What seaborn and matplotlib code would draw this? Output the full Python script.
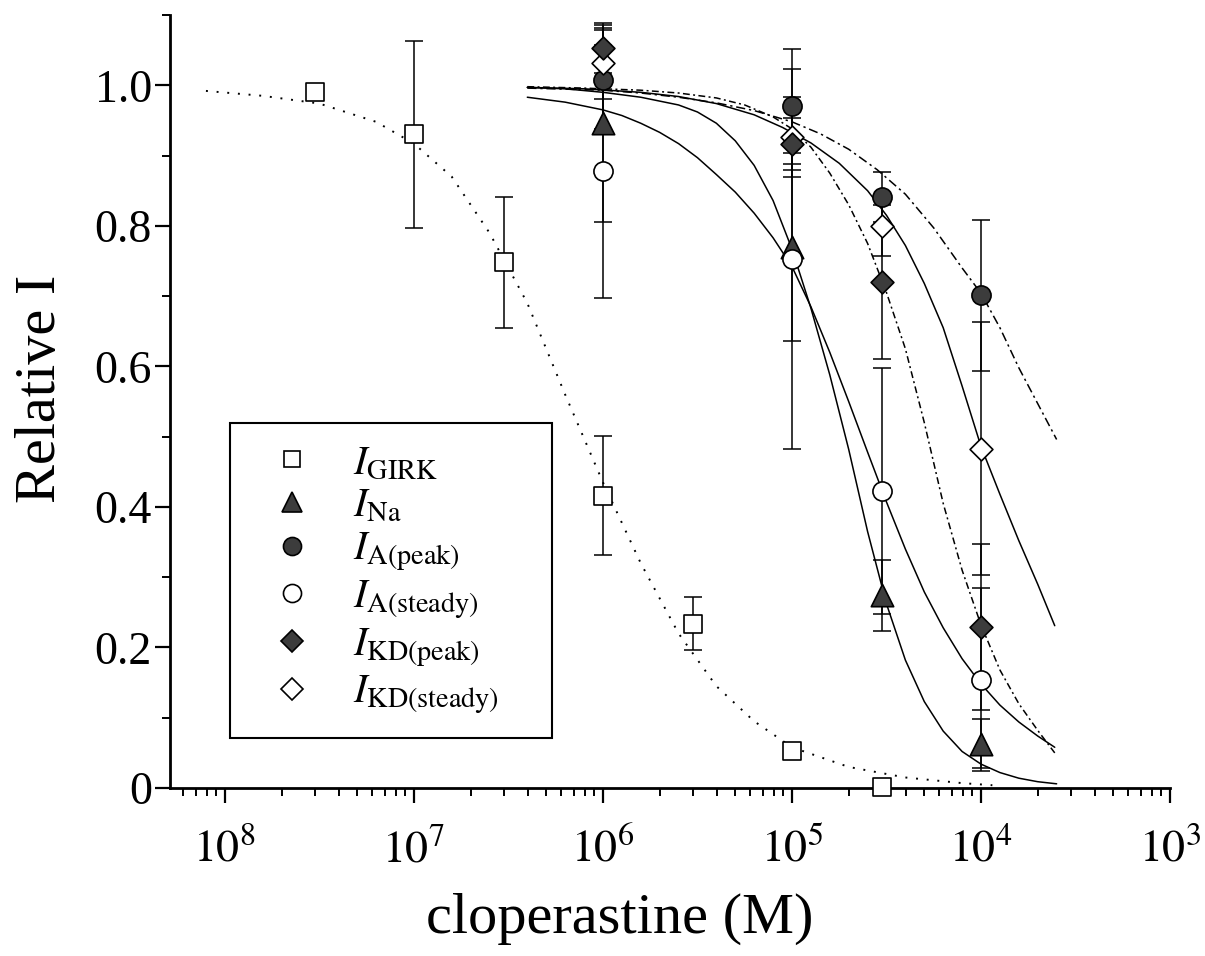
import numpy as np
import pandas as pd
import seaborn as sns
import matplotlib.pyplot as plt
from matplotlib.lines import Line2D
from matplotlib.ticker import FixedLocator, LogLocator, MultipleLocator, NullFormatter

# Messpunkte (Konzentration in M, relativer Strom, Fehler)
girk_conc = [3e-8, 1e-7, 3e-7, 1e-6, 3e-6, 1e-5, 3e-5]
girk_rel = [0.990, 0.930, 0.748, 0.416, 0.234, 0.052, 0.002]
girk_err = [0.0, 0.133, 0.093, 0.085, 0.038, 0.008, 0.003]

conc = [1e-6, 1e-5, 3e-5, 1e-4]
na_rel = [0.946, 0.770, 0.274, 0.063]
na_err = [0.14, 0.134, 0.05, 0.035]
apeak_rel = [1.008, 0.970, 0.841, 0.701]
apeak_err = [0.07, 0.082, 0.036, 0.108]
asteady_rel = [0.878, 0.753, 0.423, 0.154]
asteady_err = [0.18, 0.27, 0.175, 0.13]
kdpeak_rel = [1.053, 0.916, 0.720, 0.229]
kdpeak_err = [0.035, 0.037, 0.11, 0.118]
kdsteady_rel = [1.031, 0.926, 0.800, 0.483]
kdsteady_err = [0.05, 0.057, 0.043, 0.18]

# Fitkurven (log10 Konzentration, relativer Strom)
girk_fit_logc = [-8.1, -7.8, -7.5, -7.2, -7.0, -6.8, -6.6, -6.4, -6.2, -6.0, -5.8, -5.6,
                 -5.4, -5.2, -5.0, -4.7, -4.4, -4.1, -3.94]
girk_fit = [0.992, 0.985, 0.974, 0.948, 0.917, 0.870, 0.790, 0.690, 0.560, 0.435, 0.320,
            0.220, 0.145, 0.095, 0.058, 0.030, 0.015, 0.007, 0.004]

na_fit_logc = [-6.4, -6.2, -6.0, -5.8, -5.6, -5.5, -5.4, -5.3, -5.2, -5.1, -5.0, -4.9,
               -4.8, -4.7, -4.6, -4.5, -4.4, -4.3, -4.2, -4.1, -4.0, -3.9, -3.8, -3.7, -3.6]
na_fit = [0.997, 0.995, 0.990, 0.983, 0.972, 0.962, 0.946, 0.921, 0.886, 0.836, 0.767,
          0.683, 0.588, 0.482, 0.365, 0.262, 0.182, 0.123, 0.081, 0.052, 0.034, 0.022,
          0.014, 0.009, 0.006]

asteady_fit_logc = [-6.4, -6.2, -6.0, -5.9, -5.8, -5.7, -5.6, -5.5, -5.4, -5.3, -5.2,
                    -5.1, -5.0, -4.9, -4.8, -4.7, -4.6, -4.5, -4.4, -4.3, -4.2, -4.1,
                    -4.0, -3.9, -3.8, -3.7, -3.61]
asteady_fit = [0.983, 0.976, 0.965, 0.957, 0.946, 0.933, 0.917, 0.897, 0.873, 0.848,
               0.818, 0.783, 0.742, 0.685, 0.620, 0.550, 0.478, 0.407, 0.340, 0.279,
               0.228, 0.184, 0.148, 0.118, 0.094, 0.074, 0.058]

apeak_fit_logc = [-6.4, -6.0, -5.8, -5.6, -5.4, -5.2, -5.0, -4.85, -4.7, -4.55, -4.4,
                  -4.25, -4.1, -4.0, -3.9, -3.8, -3.7, -3.6]
apeak_fit = [0.996, 0.993, 0.989, 0.983, 0.975, 0.964, 0.948, 0.931, 0.909, 0.880,
             0.845, 0.797, 0.740, 0.704, 0.655, 0.598, 0.547, 0.496]

kdsteady_fit_logc = [-6.4, -6.1, -5.8, -5.6, -5.4, -5.2, -5.05, -4.9, -4.75, -4.6, -4.5,
                     -4.4, -4.3, -4.2, -4.1, -4.0, -3.9, -3.8, -3.7, -3.61]
kdsteady_fit = [0.997, 0.995, 0.990, 0.984, 0.974, 0.958, 0.940, 0.918, 0.889, 0.850,
                0.815, 0.772, 0.718, 0.655, 0.572, 0.486, 0.418, 0.352, 0.290, 0.231]

kdpeak_fit_logc = [-6.4, -6.1, -5.8, -5.6, -5.4, -5.25, -5.1, -5.0, -4.9, -4.8, -4.7,
                   -4.6, -4.5, -4.4, -4.3, -4.2, -4.1, -4.0, -3.9, -3.8, -3.7, -3.61]
kdpeak_fit = [0.998, 0.996, 0.993, 0.989, 0.982, 0.972, 0.955, 0.938, 0.912, 0.875,
              0.830, 0.775, 0.705, 0.625, 0.520, 0.405, 0.310, 0.232, 0.168, 0.120,
              0.082, 0.050]

xtick_labels = [r'$10^{8}$', r'$10^{7}$', r'$10^{6}$', r'$10^{5}$', r'$10^{4}$', r'$10^{3}$']
ytick_labels = ['0', '0.2', '0.4', '0.6', '0.8', '1.0']
legend_labels = [r'$I_{\mathrm{GIRK}}$', r'$I_{\mathrm{Na}}$', r'$I_{\mathrm{A(peak)}}$',
                 r'$I_{\mathrm{A(steady)}}$', r'$I_{\mathrm{KD(peak)}}$', r'$I_{\mathrm{KD(steady)}}$']

sns.set_theme(style='ticks')
plt.rcParams['font.family'] = ['Liberation Serif', 'DejaVu Serif']
plt.rcParams['mathtext.fontset'] = 'stix'
for key in ['text.color', 'axes.labelcolor', 'xtick.color', 'ytick.color', 'axes.edgecolor']:
    plt.rcParams[key] = 'black'

dark = '#3c3c3c'

fig = plt.figure(figsize=(12.05, 9.56), dpi=100)
ax = fig.add_axes([0.1411, 0.1757, 0.8299, 0.8086])

# Fitkurven
fits = [
    (girk_fit_logc, girk_fit, (0, (1, 4.5)), 1.4),
    (na_fit_logc, na_fit, '-', 1.1),
    (asteady_fit_logc, asteady_fit, '-', 1.1),
    (apeak_fit_logc, apeak_fit, (0, (6, 2.5, 1.5, 2.5)), 1.1),
    (kdsteady_fit_logc, kdsteady_fit, '-', 1.1),
    (kdpeak_fit_logc, kdpeak_fit, (0, (4.5, 2.2, 1.3, 2.2)), 1.1),
]
for logc, rel, ls, lw in fits:
    df = pd.DataFrame({'conc': 10.0 ** np.array(logc), 'rel': rel})
    sns.lineplot(data=df, x='conc', y='rel', ax=ax, color='black', linewidth=lw,
                 linestyle=ls, estimator=None, sort=False, zorder=2)

# Fehlerbalken und Symbole
series = [
    (girk_conc, girk_rel, girk_err, 's', 'white', 150),
    (conc, na_rel, na_err, '^', dark, 260),
    (conc, asteady_rel, asteady_err, 'o', 'white', 190),
    (conc, apeak_rel, apeak_err, 'o', dark, 190),
    (conc, kdsteady_rel, kdsteady_err, 'D', 'white', 135),
    (conc, kdpeak_rel, kdpeak_err, 'D', dark, 135),
]
for x, y, e, m, fc, s in series:
    ax.errorbar(x, y, yerr=e, fmt='none', ecolor='black', elinewidth=1.1,
                capsize=6.5, capthick=1.1, zorder=3, clip_on=False)
for x, y, e, m, fc, s in series:
    sns.scatterplot(x=x, y=y, ax=ax, marker=m, s=s, color=fc, edgecolor='black',
                    linewidth=1.2, zorder=4, clip_on=False)

ax.set_xscale('log')
ax.set_xlim(10 ** -8.29, 1e-3)
ax.set_ylim(0, 1.1)

ax.xaxis.set_major_locator(FixedLocator([1e-8, 1e-7, 1e-6, 1e-5, 1e-4, 1e-3]))
ax.set_xticklabels(xtick_labels, fontsize=33)
ax.xaxis.set_minor_locator(LogLocator(base=10, subs=np.arange(2, 10)))
ax.xaxis.set_minor_formatter(NullFormatter())

ax.yaxis.set_major_locator(FixedLocator([0, 0.2, 0.4, 0.6, 0.8, 1.0]))
ax.set_yticklabels(ytick_labels, fontsize=33)
ax.yaxis.set_minor_locator(MultipleLocator(0.1))

ax.tick_params(axis='both', which='major', direction='out', length=11, width=1.6)
ax.tick_params(axis='both', which='minor', direction='out', length=6, width=1.4)
ax.tick_params(axis='x', which='major', pad=18)
ax.tick_params(axis='y', which='major', pad=2)

for side in ['top', 'right']:
    ax.spines[side].set_visible(False)
for side in ['left', 'bottom']:
    ax.spines[side].set_linewidth(2.0)

ax.set_xlabel('cloperastine (M)', fontsize=42)
ax.xaxis.set_label_coords(0.45, -0.135)
ax.set_ylabel('Relative I', fontsize=42)
ax.yaxis.set_label_coords(-0.103, 0.517)

handles = [
    Line2D([], [], ls='none', marker='s', markersize=11.5, mfc='white', mec='black', mew=1.2),
    Line2D([], [], ls='none', marker='^', markersize=15, mfc=dark, mec='black', mew=1.2),
    Line2D([], [], ls='none', marker='o', markersize=13, mfc=dark, mec='black', mew=1.2),
    Line2D([], [], ls='none', marker='o', markersize=13, mfc='white', mec='black', mew=1.2),
    Line2D([], [], ls='none', marker='D', markersize=11, mfc=dark, mec='black', mew=1.2),
    Line2D([], [], ls='none', marker='D', markersize=11, mfc='white', mec='black', mew=1.2),
]
leg = ax.legend(handles, legend_labels, loc='upper left',
                bbox_to_anchor=(0.06, 0.472, 0.322, 0.0), mode='expand',
                fontsize=29, frameon=True, fancybox=False, edgecolor='black',
                handlelength=2.0, handletextpad=0.5, borderpad=0.55, labelspacing=0.14,
                borderaxespad=0)
leg.get_frame().set_linewidth(1.5)
leg.get_frame().set_alpha(None)
leg.get_frame().set_facecolor('white')

fig.savefig('out.png', dpi=100)
